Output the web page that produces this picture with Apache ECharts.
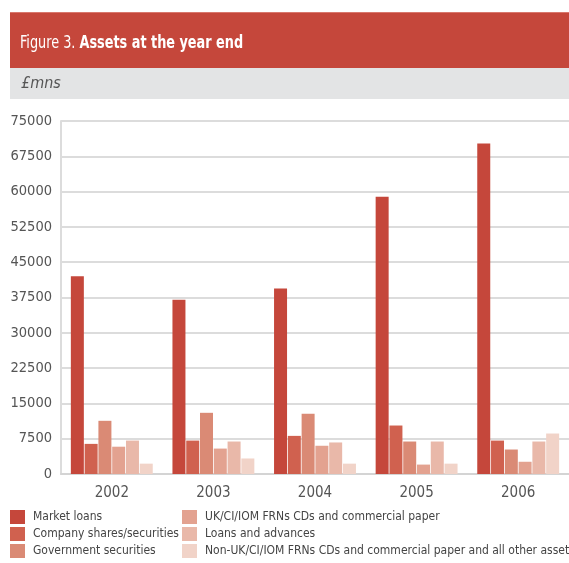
<!DOCTYPE html>
<html>
<head>
<meta charset="utf-8">
<script src="https://cdn.jsdelivr.net/npm/echarts@6/dist/echarts.min.js"></script>
<style>
  html, body { margin: 0; padding: 0; background: #ffffff; }
  #chart { width: 569px; height: 563px; }
</style>
</head>
<body>
<div id="chart"></div>
<script>
// Year-end asset holdings, £ millions
const years = ['2002', '2003', '2004', '2005', '2006'];
const marketLoans      = [42000, 37000, 39400, 58900, 70200];
const companyShares    = [6400, 7100, 8100, 10300, 7100];
const governmentSecs   = [11300, 13000, 12800, 6900, 5200];
const ukFrns           = [5800, 5400, 6000, 2000, 2600];
const loansAdvances    = [7100, 6900, 6700, 6900, 6900];
const nonUkOther       = [2200, 3300, 2200, 2200, 8600];
const yTicks = [0, 7500, 15000, 22500, 30000, 37500, 45000, 52500, 60000, 67500, 75000];

const seriesNames = [
  'Market loans',
  'Company shares/securities',
  'Government securities',
  'UK/CI/IOM FRNs CDs and commercial paper',
  'Loans and advances',
  'Non-UK/CI/IOM FRNs CDs and commercial paper and all other assets'
];
const seriesData = [marketLoans, companyShares, governmentSecs, ukFrns, loansAdvances, nonUkOther];
const palette = ['#c5473b', '#d0614f', '#da8a75', '#e3a290', '#e9b8a9', '#f1d3c8'];

const FONT = '"DejaVu Sans Condensed", "Liberation Sans Narrow", "Liberation Sans", sans-serif';

const chart = echarts.init(document.getElementById('chart'), null, { renderer: 'canvas' });

const legendText = { color: '#444', fontSize: 12, fontFamily: FONT, lineHeight: 14,
                     padding: [0, 0, 0, 3] };

chart.setOption({
  animation: false,
  color: palette,
  textStyle: { fontFamily: FONT },
  graphic: [
    { type: 'rect', left: 10, top: 12, shape: { width: 570, height: 56 },
      style: { fill: '#c5473b' }, silent: true },
    { type: 'rect', left: 10, top: 12, shape: { width: 570, height: 1 },
      style: { fill: '#d9776c' }, silent: true },
    { type: 'rect', left: 10, top: 68, shape: { width: 570, height: 31 },
      style: { fill: '#e3e4e5' }, silent: true },
    { type: 'text', x: 20, y: 35, scaleX: 0.84,
      style: {
        text: '{r|Figure 3. }{b|Assets at the year end}',
        rich: {
          r: { fill: '#ffffff', fontSize: 17, fontFamily: FONT },
          b: { fill: '#ffffff', fontSize: 17, fontWeight: 'bold', fontFamily: FONT }
        }
      } },
    { type: 'text', left: 21, top: 76,
      style: { text: '£mns', fill: '#555', fontSize: 16, fontStyle: 'italic', fontFamily: FONT } }
  ],
  grid: { left: 61, top: 121, right: -8, bottom: 89, containLabel: false },
  xAxis: {
    type: 'category',
    data: years,
    axisLine: { show: true, lineStyle: { color: '#d4d4d4', width: 2 } },
    axisTick: { show: false },
    axisLabel: { color: '#555', fontSize: 15, fontFamily: FONT, margin: 12 }
  },
  yAxis: {
    type: 'value',
    min: yTicks[0],
    max: yTicks[yTicks.length - 1],
    interval: yTicks[1] - yTicks[0],
    axisLine: { show: true, lineStyle: { color: '#dcdcdc', width: 2 } },
    axisTick: { show: false },
    axisLabel: { color: '#555', fontSize: 14.5, fontFamily: FONT, margin: 9,
                 formatter: v => String(v) },
    splitLine: { lineStyle: { color: '#dcdcdc', width: 2 } }
  },
  legend: [
    { orient: 'vertical', left: 10, top: 510, height: 60, padding: 0,
      itemWidth: 15, itemHeight: 14, itemGap: 3,
      icon: 'rect', textStyle: legendText, data: seriesNames.slice(0, 3) },
    { orient: 'vertical', left: 182, top: 510, height: 60, padding: 0,
      itemWidth: 15, itemHeight: 14, itemGap: 3,
      icon: 'rect', textStyle: legendText, data: seriesNames.slice(3) }
  ],
  series: seriesNames.map((name, i) => ({
    name: name,
    type: 'bar',
    data: seriesData[i],
    barWidth: 13,
    barGap: '6%',
    itemStyle: { color: palette[i] }
  }))
});
</script>
</body>
</html>
